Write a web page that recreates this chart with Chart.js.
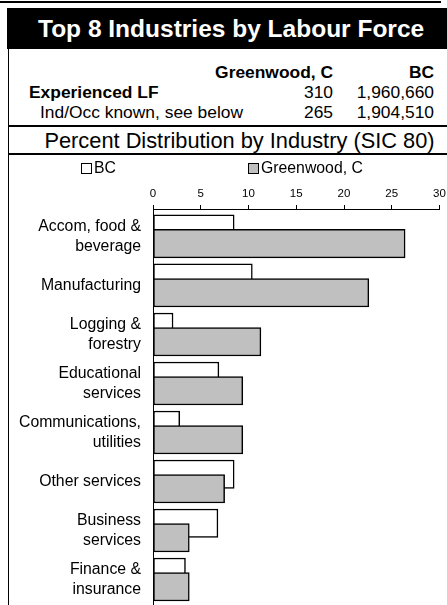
<!DOCTYPE html>
<html>
<head>
<meta charset="utf-8">
<script src="https://cdn.jsdelivr.net/npm/chart.js@4/dist/chart.umd.min.js"></script>
<style>
  html, body { margin:0; padding:0; background:#fff; }
  body { width:447px; height:605px; position:relative; overflow:hidden; font-family:"Liberation Sans", Arial, sans-serif; color:#000; }
  .abs { position:absolute; white-space:nowrap; }
  #topline { left:0; top:1px; width:441px; height:2px; background:#000; }
  #header { left:7px; top:8px; width:440px; height:41px; background:#000; }
  #title { left:38px; top:8px; height:41px; line-height:41px; color:#fff; font-weight:bold; font-size:24.5px; }
  .row { font-size:17.4px; line-height:20px; height:20px; }
  .b { font-weight:bold; }
  #lborder { left:8px; top:49px; width:1px; height:556px; background:#000; }
  .hline { left:8px; width:439px; height:2px; background:#000; }
  #sub { left:8px; width:463px; text-align:center; top:128px; height:26px; line-height:26px; font-size:21.8px; }
  #chartwrap { position:absolute; left:0; top:155px; width:447px; height:450px; }
  #legend { position:absolute; top:158px; left:0; width:447px; height:20px; font-size:15.8px; }
  .lg { position:absolute; top:0; line-height:20px; display:flex; align-items:center; }
  .lg .box { width:9px; height:9px; border:1px solid #000; margin-right:2px; }
</style>
</head>
<body>
<div class="abs" id="topline"></div>
<div class="abs" id="header"></div>
<div class="abs" id="title">Top 8 Industries by Labour Force</div>
<div class="abs" id="lborder"></div>

<div class="abs row b" style="right:114px; top:62px;">Greenwood, C</div>
<div class="abs row b" style="right:13px; top:62px;">BC</div>
<div class="abs row b" style="left:29px; top:82px;">Experienced LF</div>
<div class="abs row" style="right:114px; top:82px;">310</div>
<div class="abs row" style="right:13px; top:82px;">1,960,660</div>
<div class="abs row" style="left:40px; top:102px;">Ind/Occ known, see below</div>
<div class="abs row" style="right:114px; top:102px;">265</div>
<div class="abs row" style="right:13px; top:102px;">1,904,510</div>

<div class="abs hline" style="top:125px;"></div>
<div class="abs" id="sub">Percent Distribution by Industry (SIC 80)</div>
<div class="abs hline" style="top:153px;"></div>

<div id="chartwrap"><canvas id="c" width="447" height="450"></canvas></div>
<div id="legend"></div>

<script>
// ---- data ----
const categories = [
  ["Accom, food &", "beverage"],
  ["Manufacturing"],
  ["Logging &", "forestry"],
  ["Educational", "services"],
  ["Communications,", "utilities"],
  ["Other services"],
  ["Business", "services"],
  ["Finance &", "insurance"]
];
const seriesNames = ["BC", "Greenwood, C"];
const bcValues = [8.5, 10.4, 2.1, 6.9, 2.8, 8.5, 6.8, 3.4];
const greenwoodValues = [26.4, 22.6, 11.3, 9.4, 9.4, 7.5, 3.8, 3.8];
const xTicks = [0, 5, 10, 15, 20, 25, 30];

// ---- styling constants ----
const barShift = 0.148;   // vertical overlap offset (in category units)
const barPx = 28.5;
const fills = ["#ffffff", "#c0c0c0"];

function pts(vals, dir) {
  return vals.map((v, i) => ({ x: v, y: i + dir * barShift }));
}

const chart = new Chart(document.getElementById('c'), {
  type: 'bar',
  data: {
    datasets: [
      { label: seriesNames[0], data: pts(bcValues, -1), backgroundColor: fills[0], borderColor: '#000', borderWidth: 1.5, borderSkipped: false, order: 2 },
      { label: seriesNames[1], data: pts(greenwoodValues, 1), backgroundColor: fills[1], borderColor: '#000', borderWidth: 1.5, borderSkipped: false, order: 1 }
    ]
  },
  options: {
    indexAxis: 'y',
    responsive: false,
    animation: false,
    devicePixelRatio: 1,
    grouped: false,
    barThickness: barPx,
    layout: { padding: { left: 0, right: 7.5, top: 0, bottom: 0 } },
    plugins: { legend: { display: false }, tooltip: { enabled: false } },
    scales: {
      x: {
        type: 'linear', position: 'top', min: xTicks[0], max: xTicks[xTicks.length - 1],
        afterBuildTicks: s => { s.ticks = xTicks.map(v => ({ value: v })); },
        afterFit: s => { s.height = 54; s.paddingLeft = 0; s.paddingRight = 0; },
        ticks: { font: { family: 'Liberation Sans', size: 11.5 }, color: '#000', padding: 4, maxRotation: 0 },
        grid: { drawOnChartArea: false, drawTicks: true, tickLength: 4, color: '#000', lineWidth: 1 },
        border: { display: true, color: '#000', width: 1 }
      },
      y: {
        type: 'linear', reverse: true, min: -0.56, max: 7.52, offset: false, bounds: 'data', grace: 0,
        afterDataLimits: s => { s.min = -0.56; s.max = 7.52; },
        afterBuildTicks: s => { s.ticks = categories.map((c, i) => ({ value: i })); s.min = -0.56; s.max = 7.52; },
        afterFit: s => { s.width = 153; s.paddingTop = 0; s.paddingBottom = 0; },
        ticks: {
          callback: v => categories[v],
          font: { family: 'Liberation Sans', size: 15.8, lineHeight: 1.27 },
          color: '#000', padding: 12
        },
        grid: { drawOnChartArea: false, drawTicks: false },
        border: { display: true, color: '#000', width: 1 }
      }
    }
  }
});

// HTML legend built from chart datasets
const lg = document.getElementById('legend');
const legendX = [81, 248];
chart.data.datasets.forEach((ds, i) => {
  const it = document.createElement('div');
  it.className = 'lg';
  it.style.left = legendX[i] + 'px';
  const bx = document.createElement('span');
  bx.className = 'box';
  bx.style.background = ds.backgroundColor;
  const tx = document.createElement('span');
  tx.textContent = ds.label;
  it.appendChild(bx); it.appendChild(tx);
  lg.appendChild(it);
});
</script>
</body>
</html>
